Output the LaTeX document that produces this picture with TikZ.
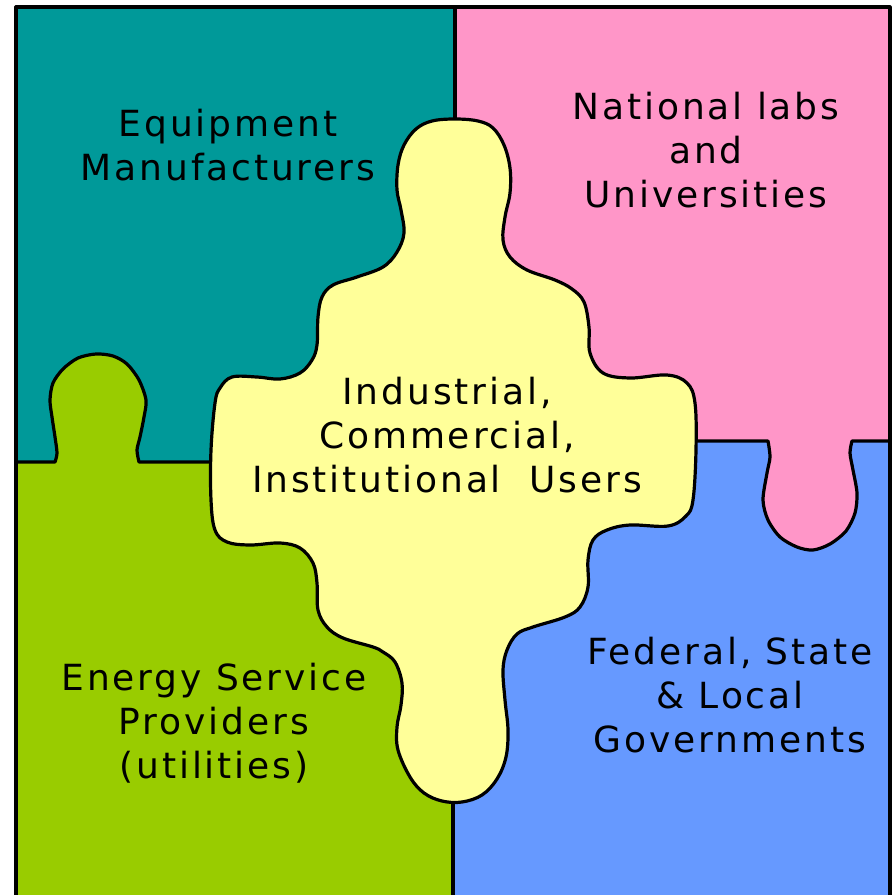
\documentclass[tikz,border=0pt]{standalone}
\usepackage{fontspec}
\setmainfont{DejaVu Sans}[LetterSpace=8]
\usetikzlibrary{positioning}

\definecolor{makerteal}{HTML}{009999}
\definecolor{labpink}{HTML}{FF96C8}
\definecolor{espgreen}{HTML}{99CC00}
\definecolor{govblue}{HTML}{6699FF}
\definecolor{useryellow}{HTML}{FFFF99}

\tikzset{
  piece/.style={draw=black, line width=3.2pt, line join=round, line cap=round},
  sectortext/.style={align=center, inner sep=0pt, font=\fontsize{36}{44}\selectfont}
}

\begin{document}
\begin{tikzpicture}[x=1pt, y=-1pt]
  \useasboundingbox (0,0) rectangle (895,895);
  \clip (0,0) rectangle (895,895);

  \fill[makerteal] (16,7) rectangle (454,462);
  \fill[labpink] (454,7) rectangle (890,441);
  \fill[espgreen] (16,462) rectangle (454,900);
  \fill[govblue] (454,441) rectangle (890,900);

  \fill[espgreen] plot[smooth] coordinates {(55,462) (57,453) (55,437) (52,417) (50,400) (53,383) (63,369) (78,358) (96,354) (113,356) (127,364) (139,380) (146,400) (144,417) (140,437) (137,450) (139,462)} -- cycle;
  \fill[labpink] plot[smooth] coordinates {(768,441) (770,457) (767,473) (763,500) (768,520) (780,537) (797,547) (813,550) (830,544) (846,531) (855,513) (857,493) (853,470) (850,453) (852,441)} -- cycle;

  \draw[piece] (16,462) -- plot[smooth] coordinates {(55,462) (57,453) (55,437) (52,417) (50,400) (53,383) (63,369) (78,358) (96,354) (113,356) (127,364) (139,380) (146,400) (144,417) (140,437) (137,450) (139,462)} -- (230,462);
  \draw[piece] (680,441) -- plot[smooth] coordinates {(768,441) (770,457) (767,473) (763,500) (768,520) (780,537) (797,547) (813,550) (830,544) (846,531) (855,513) (857,493) (853,470) (850,453) (852,441)} -- (890,441);
  \draw[piece] (455,7) -- (455,130);
  \draw[piece] (453,790) -- (453,900);
  \draw[piece] (16,900) -- (16,7) -- (890,7) -- (890,900);

  \filldraw[piece, fill=useryellow] plot[smooth cycle, tension=0.6] coordinates {
    (432,121) (455,119) (478,121) (493,128) (504,145) (510,168) (510,193) (505,217) (503,240) (510,257) (527,270)
    (555,280) (572,289) (584,302) (589,327) (590,353) (603,373) (630,378) (667,375) (687,383) (695,403)
    (696,450) (693,500) (686,516) (668,526) (630,525) (607,530) (593,540) (588,560) (588,587) (580,607)
    (565,617) (533,627) (517,634) (507,650) (503,670) (505,700) (508,730) (506,757) (497,779) (482,795)
    (462,802) (442,801) (424,793) (410,777) (398,750) (397,727) (401,705) (402,683) (395,662) (383,652)
    (373,647) (343,638) (327,627) (318,610) (317,583) (313,563) (300,548) (280,543) (250,545) (227,542)
    (215,530) (211,500) (211,450) (215,403) (220,388) (232,377) (257,377) (280,379) (300,373) (312,360)
    (317,345) (318,317) (322,297) (333,285) (357,277) (383,267) (397,252) (404,233) (401,210) (397,190)
    (398,165) (404,145) (416,129)};

  \node[sectortext] (makers) at (228,145) {Equipment\\Manufacturers};
  \node[sectortext] (labs) at (706,150) {National labs\\and\\Universities};
  \node[sectortext] (users) at (447,435) {Industrial,\\Commercial,\\Institutional\ \ Users};
  \node[sectortext] (esp) at (214,723) {Energy Service\\Providers\\(utilities)};
  \node[sectortext] (gov) at (730,695) {Federal, State\\\& Local\\Governments};
\end{tikzpicture}
\end{document}
